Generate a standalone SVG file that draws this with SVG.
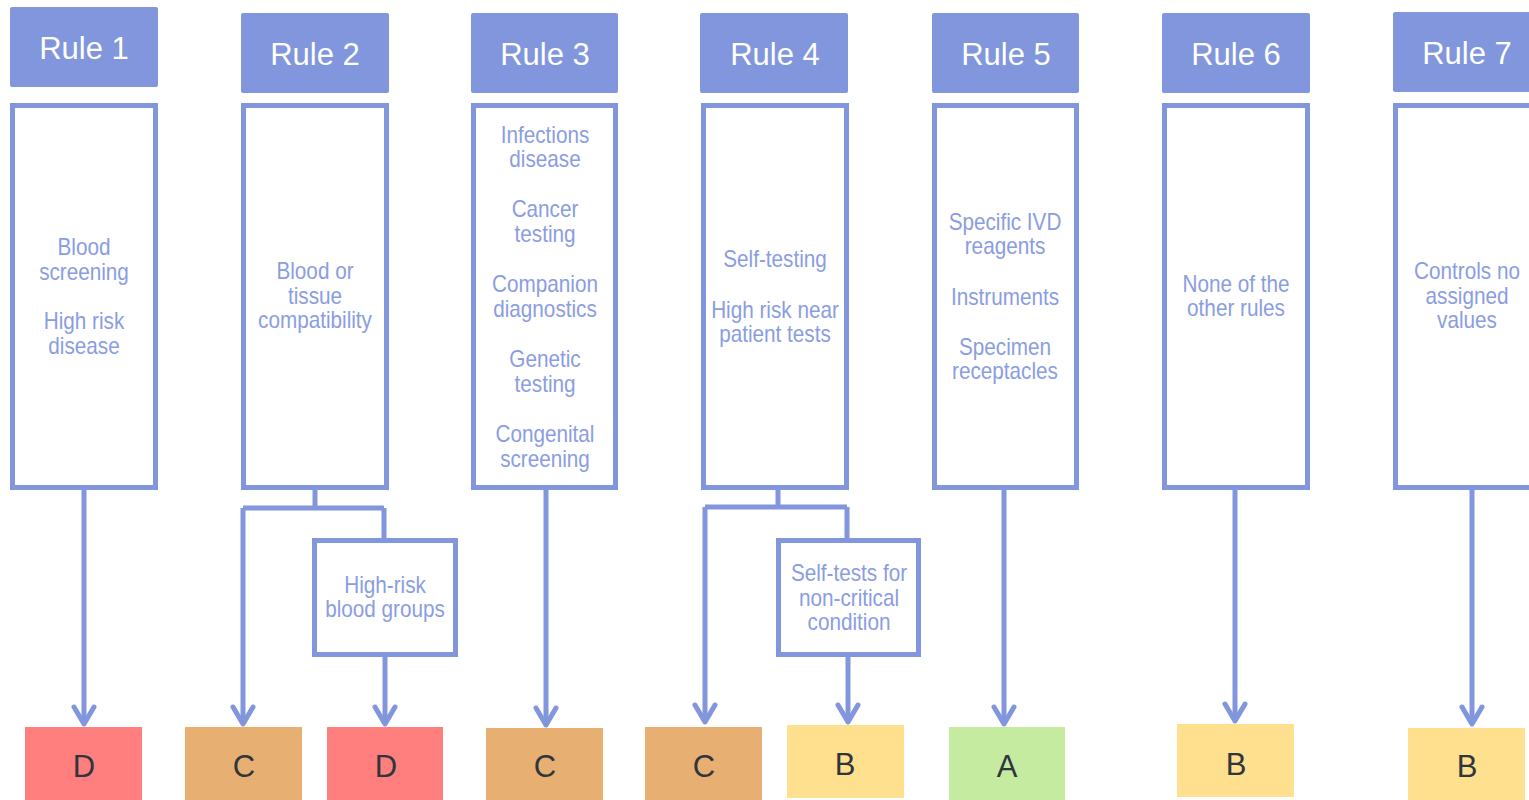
<svg xmlns="http://www.w3.org/2000/svg" width="1529" height="800" viewBox="0 0 1529 800">
<style>
.hdr{fill:#8196DC}
.ht{fill:#ffffff;font-family:"Liberation Sans",Arial,sans-serif;font-size:31px;text-anchor:middle}
.body{fill:#ffffff;stroke:#8196DC;stroke-width:5}
.bt{fill:#8A9DE2;font-family:"Liberation Sans",Arial,sans-serif;font-size:23px;text-anchor:middle}
.res{font-family:"Liberation Sans",Arial,sans-serif;font-size:31px;fill:#2F363C;text-anchor:middle}
.D{fill:#FF7F7F}.C{fill:#E8AF72}.B{fill:#FEE08F}.A{fill:#C4EBA0}
.con{fill:none;stroke:#8196DC;stroke-width:5}
</style>
<defs>
<marker id="arr" markerUnits="userSpaceOnUse" viewBox="-22 -14 26 28" markerWidth="26" markerHeight="28" refX="0" refY="0" orient="auto" overflow="visible">
<path d="M-17,-10 L0,0 L-17,10" fill="none" stroke="#8196DC" stroke-width="5" stroke-linecap="round" stroke-linejoin="round"/>
</marker>
</defs>
<rect width="1529" height="800" fill="#ffffff"/>

<g id="connectors">
<path class="con" d="M84,490 V724" marker-end="url(#arr)"/>
<path class="con" d="M315,490 V508 M243,508 H384 M384,508 V538"/>
<path class="con" d="M243,508 V724" marker-end="url(#arr)"/>
<path class="con" d="M385,657 V724" marker-end="url(#arr)"/>
<path class="con" d="M546,490 V725" marker-end="url(#arr)"/>
<path class="con" d="M778,490 V507 M705,507 H847 M847,507 V538"/>
<path class="con" d="M705,507 V722" marker-end="url(#arr)"/>
<path class="con" d="M848,657 V722" marker-end="url(#arr)"/>
<path class="con" d="M1004,490 V724" marker-end="url(#arr)"/>
<path class="con" d="M1235,490 V721" marker-end="url(#arr)"/>
<path class="con" d="M1472,490 V724" marker-end="url(#arr)"/>
</g>

<g id="rule1">
<rect class="hdr" x="10" y="7" width="148" height="80" rx="2"/>
<text class="ht" x="84" y="59">Rule 1</text>
<rect class="body" x="12.5" y="105.5" width="143" height="382"/>
<g transform="translate(84,0) scale(0.9,1)"><text class="bt" x="0" y="255">Blood</text><text class="bt" x="0" y="280">screening</text><text class="bt" x="0" y="329">High risk</text><text class="bt" x="0" y="354">disease</text></g>
</g>

<g id="rule2">
<rect class="hdr" x="241" y="13" width="148" height="80" rx="2"/>
<text class="ht" x="315" y="65">Rule 2</text>
<rect class="body" x="243.5" y="105.5" width="143" height="382"/>
<g transform="translate(315,0) scale(0.9,1)"><text class="bt" x="0" y="279">Blood or</text><text class="bt" x="0" y="304">tissue</text><text class="bt" x="0" y="328">compatibility</text></g>
</g>

<g id="rule3">
<rect class="hdr" x="471" y="13" width="147" height="80" rx="2"/>
<text class="ht" x="545" y="65">Rule 3</text>
<rect class="body" x="473.5" y="105.5" width="142" height="382"/>
<g transform="translate(545,0) scale(0.9,1)"><text class="bt" x="0" y="143">Infections</text><text class="bt" x="0" y="167">disease</text><text class="bt" x="0" y="217">Cancer</text><text class="bt" x="0" y="242">testing</text><text class="bt" x="0" y="292">Companion</text><text class="bt" x="0" y="317">diagnostics</text><text class="bt" x="0" y="367">Genetic</text><text class="bt" x="0" y="392">testing</text><text class="bt" x="0" y="442">Congenital</text><text class="bt" x="0" y="467">screening</text></g>
</g>

<g id="rule4">
<rect class="hdr" x="700" y="13" width="148" height="80" rx="2"/>
<text class="ht" x="775" y="65">Rule 4</text>
<rect class="body" x="703.5" y="105.5" width="143" height="382"/>
<g transform="translate(775,0) scale(0.9,1)"><text class="bt" x="0" y="267">Self-testing</text><text class="bt" x="0" y="318">High risk near</text><text class="bt" x="0" y="342">patient tests</text></g>
</g>

<g id="rule5">
<rect class="hdr" x="932" y="13" width="147" height="80" rx="2"/>
<text class="ht" x="1006" y="65">Rule 5</text>
<rect class="body" x="934.5" y="105.5" width="142" height="382"/>
<g transform="translate(1005,0) scale(0.9,1)"><text class="bt" x="0" y="230">Specific IVD</text><text class="bt" x="0" y="254">reagents</text><text class="bt" x="0" y="305">Instruments</text><text class="bt" x="0" y="355">Specimen</text><text class="bt" x="0" y="379">receptacles</text></g>
</g>

<g id="rule6">
<rect class="hdr" x="1162" y="13" width="148" height="80" rx="2"/>
<text class="ht" x="1236" y="65">Rule 6</text>
<rect class="body" x="1164.5" y="105.5" width="143" height="382"/>
<g transform="translate(1236,0) scale(0.9,1)"><text class="bt" x="0" y="292">None of the</text><text class="bt" x="0" y="316">other rules</text></g>
</g>

<g id="rule7">
<rect class="hdr" x="1393" y="12" width="150" height="80" rx="2"/>
<text class="ht" x="1467" y="64">Rule 7</text>
<rect class="body" x="1395.5" y="105.5" width="150" height="382"/>
<g transform="translate(1467,0) scale(0.9,1)"><text class="bt" x="0" y="279">Controls no</text><text class="bt" x="0" y="304">assigned</text><text class="bt" x="0" y="328">values</text></g>
</g>

<g id="sub-high-risk-blood-groups">
<rect class="body" x="314.5" y="540.5" width="141" height="114"/>
<g transform="translate(385,0) scale(0.9,1)"><text class="bt" x="0" y="593">High-risk</text><text class="bt" x="0" y="617">blood groups</text></g>
</g>

<g id="sub-self-tests-non-critical">
<rect class="body" x="778.5" y="540.5" width="140" height="114"/>
<g transform="translate(849,0) scale(0.9,1)"><text class="bt" x="0" y="581">Self-tests for</text><text class="bt" x="0" y="606">non-critical</text><text class="bt" x="0" y="630">condition</text></g>
</g>

<g id="class-r1-D"><rect class="D" x="25" y="727" width="117" height="73"/><text class="res" x="84" y="777">D</text></g>
<g id="class-r2-C"><rect class="C" x="185" y="727" width="117" height="73"/><text class="res" x="244" y="777">C</text></g>
<g id="class-r2-D"><rect class="D" x="327" y="727" width="116" height="73"/><text class="res" x="386" y="777">D</text></g>
<g id="class-r3-C"><rect class="C" x="486" y="728" width="117" height="72"/><text class="res" x="545" y="777">C</text></g>
<g id="class-r4-C"><rect class="C" x="645" y="727" width="117" height="73"/><text class="res" x="704" y="777">C</text></g>
<g id="class-r4-B"><rect class="B" x="787" y="725" width="117" height="73"/><text class="res" x="845" y="775">B</text></g>
<g id="class-r5-A"><rect class="A" x="949" y="727" width="116" height="73"/><text class="res" x="1007" y="777">A</text></g>
<g id="class-r6-B"><rect class="B" x="1177" y="724" width="117" height="73"/><text class="res" x="1236" y="775">B</text></g>
<g id="class-r7-B"><rect class="B" x="1408" y="728" width="117" height="72"/><text class="res" x="1467" y="777">B</text></g>
</svg>
